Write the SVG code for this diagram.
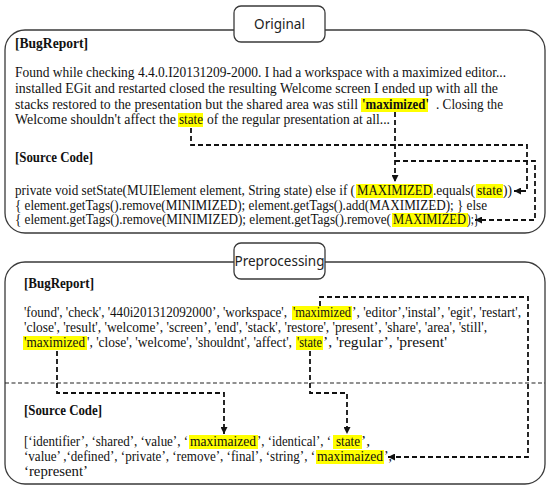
<svg xmlns="http://www.w3.org/2000/svg" width="550" height="490" viewBox="0 0 550 490">
<style>
.t{font-family:"Liberation Serif",serif;font-size:14px;fill:#111}
.b{font-weight:bold}
.lbl{font-family:"Noto Sans","Liberation Sans",sans-serif;font-size:13.5px;fill:#222;text-anchor:middle}
.hl{fill:#FFFF00}
.box{fill:#fff;stroke:#3a3a3a;stroke-width:1.3}
.dash{fill:none;stroke:#111;stroke-width:1.8;stroke-dasharray:5 3}
.div{fill:none;stroke:#222;stroke-width:1.2;stroke-dasharray:4 2.5}
</style>
<defs>
<marker id="arr" viewBox="0 0 10 10" refX="10" refY="5" markerWidth="7" markerHeight="7" markerUnits="userSpaceOnUse" orient="auto">
<path d="M0,0 L10,5 L0,10 z" fill="#111"/>
</marker>
</defs>
<rect width="550" height="490" fill="#fff"/>

<g id="original">
<rect class="box" x="5" y="30" width="540" height="203" rx="20"/>
<text class="t b" x="15" y="48" textLength="73" lengthAdjust="spacingAndGlyphs">[BugReport]</text>
<text class="t" x="15" y="77" textLength="491" lengthAdjust="spacingAndGlyphs">Found while checking 4.4.0.I20131209-2000. I had a workspace with a maximized editor...</text>
<text class="t" x="15" y="93" textLength="483" lengthAdjust="spacingAndGlyphs">installed EGit and restarted closed the resulting Welcome screen  I ended up with all the</text>
<text class="t" x="15" y="109" textLength="343" lengthAdjust="spacingAndGlyphs">stacks restored to the presentation but the shared area was still</text>
<rect class="hl" x="361" y="98" width="67" height="14"/>
<text class="t b" x="362" y="109" textLength="67" lengthAdjust="spacingAndGlyphs">'maximized'</text>
<text class="t" x="436" y="109" textLength="67" lengthAdjust="spacingAndGlyphs">. Closing the</text>
<text class="t" x="15" y="124" textLength="161" lengthAdjust="spacingAndGlyphs">Welcome shouldn't affect the</text>
<rect class="hl" x="178" y="113" width="25" height="14"/>
<text class="t" x="179" y="124" textLength="24" lengthAdjust="spacingAndGlyphs">state</text>
<text class="t" x="207" y="124" textLength="183" lengthAdjust="spacingAndGlyphs">of the regular presentation at all...</text>

<text class="t b" x="15" y="162" textLength="78" lengthAdjust="spacingAndGlyphs">[Source Code]</text>
<text class="t" x="15" y="195" textLength="340" lengthAdjust="spacingAndGlyphs">private void setState(MUIElement element, String state) else if (</text>
<rect class="hl" x="356" y="184" width="77" height="14"/>
<text class="t" x="357" y="195" textLength="75" lengthAdjust="spacingAndGlyphs">MAXIMIZED</text>
<text class="t" x="433" y="195" textLength="42" lengthAdjust="spacingAndGlyphs">.equals(</text>
<rect class="hl" x="476" y="184" width="27" height="14"/>
<text class="t" x="477" y="195" textLength="25" lengthAdjust="spacingAndGlyphs">state</text>
<text class="t" x="503" y="195" textLength="9" lengthAdjust="spacingAndGlyphs">))</text>
<text class="t" x="15" y="210" textLength="472" lengthAdjust="spacingAndGlyphs">{ element.getTags().remove(MINIMIZED); element.getTags().add(MAXIMIZED); } else</text>
<text class="t" x="15" y="224" textLength="376" lengthAdjust="spacingAndGlyphs">{ element.getTags().remove(MINIMIZED); element.getTags().remove(</text>
<rect class="hl" x="392" y="213" width="76" height="14"/>
<text class="t" x="393" y="224" textLength="73" lengthAdjust="spacingAndGlyphs">MAXIMIZED</text>
<text class="t" x="467" y="224" textLength="12" lengthAdjust="spacingAndGlyphs">);}</text>
</g>

<g id="original-label">
<rect class="box" x="234" y="6" width="91" height="36" rx="7"/>
<text class="lbl" x="279.5" y="29">Original</text>
</g>

<g id="preprocessing">
<rect class="box" x="5" y="262" width="540" height="222" rx="20"/>
<text class="t b" x="24" y="288" textLength="70" lengthAdjust="spacingAndGlyphs">[BugReport]</text>
<text class="t" x="24" y="317" textLength="263" lengthAdjust="spacingAndGlyphs">'found', 'check', '440i201312092000’, 'workspace',</text>
<rect class="hl" x="292" y="306" width="60" height="14"/>
<text class="t" x="293" y="317" textLength="58" lengthAdjust="spacingAndGlyphs">'maximized</text>
<text class="t" x="352" y="317" textLength="169" lengthAdjust="spacingAndGlyphs">’, 'editor’,'instal’, 'egit', 'restart',</text>
<text class="t" x="24" y="332" textLength="463" lengthAdjust="spacingAndGlyphs">'close', 'result', 'welcome’, 'screen’, 'end', 'stack', 'restore', 'present’, 'share', 'area', 'still',</text>
<rect class="hl" x="23" y="336" width="64" height="14"/>
<text class="t" x="24" y="347" textLength="61" lengthAdjust="spacingAndGlyphs">'maximized</text>
<text class="t" x="87" y="347" textLength="205" lengthAdjust="spacingAndGlyphs">', 'close', 'welcome', 'shouldnt', 'affect',</text>
<rect class="hl" x="296" y="336" width="27" height="14"/>
<text class="t" x="297" y="347" textLength="25" lengthAdjust="spacingAndGlyphs">'state</text>
<text class="t" x="323" y="347" textLength="124" lengthAdjust="spacingAndGlyphs">’, 'regular’, 'present'</text>

<path class="div" d="M5,383 H545"/>

<text class="t b" x="24" y="415" textLength="78" lengthAdjust="spacingAndGlyphs">[Source Code]</text>
<text class="t" x="24" y="446" textLength="164" lengthAdjust="spacingAndGlyphs">[‘identifier’, ‘shared’, ‘value’, ‘</text>
<rect class="hl" x="189" y="435" width="69" height="14"/>
<text class="t" x="190" y="446" textLength="66" lengthAdjust="spacingAndGlyphs">maximaized</text>
<text class="t" x="257" y="446" textLength="74" lengthAdjust="spacingAndGlyphs">’, ‘identical’, ‘</text>
<rect class="hl" x="333" y="435" width="29" height="14"/>
<text class="t" x="336" y="446" textLength="24" lengthAdjust="spacingAndGlyphs">state</text>
<text class="t" x="361" y="446" textLength="9" lengthAdjust="spacingAndGlyphs">’,</text>
<text class="t" x="24" y="461" textLength="291" lengthAdjust="spacingAndGlyphs">‘value’ ,‘defined’, ‘private’, ‘remove’, ‘final’, ‘string’, ‘</text>
<rect class="hl" x="316" y="450" width="68" height="14"/>
<text class="t" x="317" y="461" textLength="66" lengthAdjust="spacingAndGlyphs">maximaized</text>
<text class="t" x="384" y="461" textLength="8" lengthAdjust="spacingAndGlyphs">’,</text>
<text class="t" x="24" y="476" textLength="64" lengthAdjust="spacingAndGlyphs">‘represent’</text>
</g>

<g id="preprocessing-label">
<rect class="box" x="234" y="243" width="91" height="36" rx="7"/>
<text class="lbl" x="279.5" y="266">Preprocessing</text>
</g>

<g id="connectors">
<path class="dash" d="M395,112 V182" marker-end="url(#arr)"/>
<path class="dash" d="M395,161 H535 V220 H475" marker-end="url(#arr)"/>
<path class="dash" d="M191,128 V145 H527 V191 H514" marker-end="url(#arr)"/>
<path class="dash" d="M320,306 V297 H528 V457 H388" marker-end="url(#arr)"/>
<path class="dash" d="M57,351 V393 H224 V434" marker-end="url(#arr)"/>
<path class="dash" d="M310,351 V393 H347 V434" marker-end="url(#arr)"/>
</g>
</svg>
